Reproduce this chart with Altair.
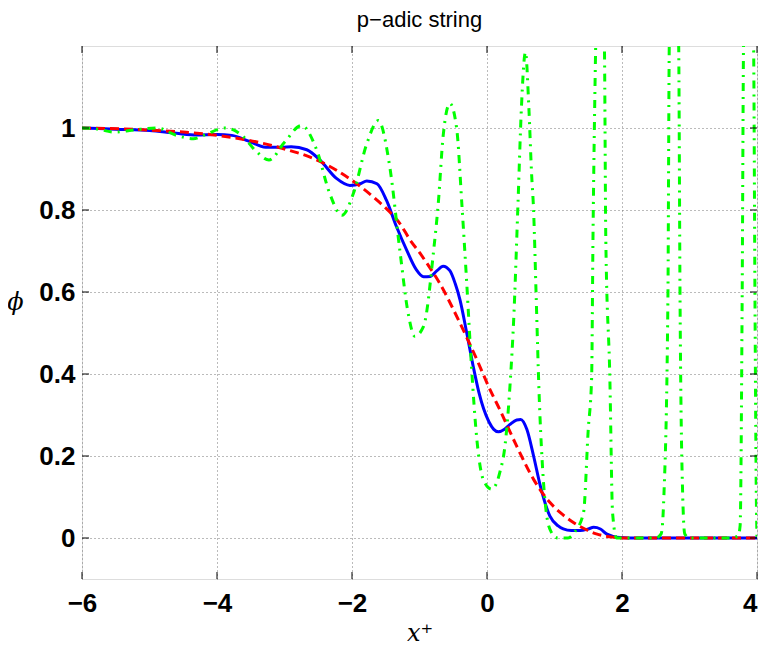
import altair as alt
import pandas as pd

# ---- data ----
blue_x = [-6.0, -5.5, -5.0, -4.6, -4.3, -4.0, -3.78, -3.53, -3.28, -3.04, -2.9, -2.67, -2.47,
          -2.23, -2.03, -1.88, -1.78, -1.63, -1.49, -1.34, -1.19, -1.05, -0.94, -0.84, -0.74,
          -0.65, -0.55, -0.47, -0.40, -0.30, -0.20, -0.12, -0.05, 0.03, 0.10, 0.17, 0.26, 0.34, 0.44,
          0.50, 0.59, 0.69, 0.79, 0.93, 1.05, 1.13, 1.25, 1.38, 1.50, 1.58, 1.68, 1.77, 1.87,
          1.97, 2.1, 3.0, 4.0]
blue_phi = [1.0, 0.997, 0.994, 0.987, 0.983, 0.984, 0.982, 0.968, 0.953, 0.953, 0.954, 0.947, 0.921,
            0.877, 0.860, 0.864, 0.871, 0.864, 0.824, 0.759, 0.702, 0.655, 0.637, 0.638, 0.652,
            0.663, 0.652, 0.620, 0.581, 0.500, 0.415, 0.355, 0.315, 0.283, 0.265, 0.259, 0.265, 0.277, 0.288,
            0.289, 0.265, 0.200, 0.127, 0.054, 0.030, 0.022, 0.018, 0.018, 0.022, 0.026, 0.022, 0.010, 0.004,
            0.001, 0.0, 0.0, 0.0]

red_x = [-6.0, -5.0, -4.5, -4.0, -3.6, -3.33, -3.09, -2.92, -2.62, -2.23, -1.93, -1.63, -1.44, -1.29,
         -1.14, -0.99, -0.89, -0.70, -0.40, -0.15, 0.05, 0.19, 0.44, 0.69, 0.93, 1.10, 1.28, 1.45,
         1.62, 1.87, 2.0, 2.5, 3.0, 4.0]
red_phi = [1.0, 0.995, 0.99, 0.982, 0.972, 0.963, 0.953, 0.945, 0.929, 0.897, 0.864, 0.824, 0.795, 0.767,
           0.727, 0.694, 0.670, 0.621, 0.524, 0.435, 0.360, 0.313, 0.224, 0.143, 0.087, 0.060, 0.038, 0.022,
           0.010, 0.002, 0.0, 0.0, 0.0, 0.0]

green_x = [-6.0, -5.8, -5.51, -5.2, -4.89, -4.6, -4.35, -4.2, -3.88, -3.63, -3.43, -3.23, -3.0, -2.75,
           -2.52, -2.33, -2.15, -1.98, -1.78, -1.61, -1.44, -1.29, -1.17, -1.07, -0.94, -0.79, -0.72,
           -0.65, -0.55, -0.45, -0.37, -0.30, -0.23, -0.15, -0.05, 0.07, 0.19, 0.27, 0.34, 0.40, 0.46,
           0.51, 0.57, 0.62, 0.66, 0.69, 0.73, 0.77, 0.82, 0.88, 0.95, 1.05, 1.2, 1.3, 1.43, 1.50, 1.55,
           1.57, 1.61, 1.68, 1.74, 1.76, 1.82, 1.86, 1.92, 2.0, 2.5, 2.58, 2.62, 2.68, 2.70, 2.77, 2.84,
           2.86, 2.90, 2.93, 3.0, 3.6, 3.72, 3.75, 3.78, 3.80, 3.87, 3.95, 3.97, 3.99, 4.0]
green_phi = [1.0, 0.998, 0.990, 0.996, 1.000, 0.982, 0.974, 0.982, 1.000, 0.982, 0.945, 0.922, 0.965, 1.006,
             0.945, 0.840, 0.787, 0.840, 0.962, 1.018, 0.905, 0.700, 0.550, 0.492, 0.516, 0.702, 0.820,
             0.980, 1.060, 1.000, 0.808, 0.621, 0.419, 0.240, 0.140, 0.119, 0.160, 0.230, 0.370, 0.550, 0.820,
             1.050, 1.185, 1.050, 0.890, 0.800, 0.580, 0.360, 0.180, 0.060, 0.015, 0.0, 0.0, 0.015, 0.062, 0.265, 0.390,
             0.730, 1.200, 1.600, 1.200, 0.730, 0.390, 0.062, 0.0, 0.0, 0.0, 0.010, 0.100, 0.580, 1.200, 1.700, 1.200,
             0.580, 0.100, 0.010, 0.0, 0.0, 0.005, 0.030, 0.580, 1.200, 1.800, 1.200, 0.580, 0.100, 0.0]

x_ticks = [-6, -4, -2, 0, 2, 4]
y_ticks = [0, 0.2, 0.4, 0.6, 0.8, 1]

W, H = 675, 533

df_blue = pd.DataFrame({"x": blue_x, "phi": blue_phi})
df_red = pd.DataFrame({"x": red_x, "phi": red_phi})
df_green = pd.DataFrame({"x": green_x, "phi": green_phi})
df_xt = pd.DataFrame({"x": x_ticks})
df_yt = pd.DataFrame({"phi": y_ticks})

xscale = alt.Scale(domain=[-6, 4], nice=False, zero=False)
yscale = alt.Scale(domain=[-0.1, 1.2], nice=False, zero=False)

xaxis = alt.Axis(values=x_ticks, grid=True, gridDash=[1, 3], gridColor="#777", gridWidth=1,
                 ticks=False, domain=False, labelFont="Liberation Sans", labelFontWeight="bold",
                 labelFontSize=26, labelColor="black", labelPadding=11, labelBaseline="top",
                 format="~g",
                 labelAlign=alt.ExprRef(expr="datum.value >= 4 ? 'right' : 'center'"),
                 title="x⁺", titleFont="DejaVu Serif", titleFontStyle="italic",
                 titleFontWeight="normal", titleFontSize=24, titleColor="black",
                 titleBaseline="alphabetic", titleY=61, labelFlush=False, labelBound=False)
yaxis = alt.Axis(values=y_ticks, grid=True, gridDash=[1, 3], gridColor="#777", gridWidth=1,
                 ticks=False, domain=False, labelFont="Liberation Sans", labelFontWeight="bold",
                 labelFontSize=26, labelColor="black", labelPadding=7, format="~g",
                 title="ϕ", titleFont="DejaVu Serif", titleFontStyle="italic", titleFontWeight="normal",
                 titleFontSize=24, titleColor="black", titleAngle=0, titleAlign="center",
                 titleBaseline="middle", titleX=-67, titleY=256)


def curve(df, color, dash=None):
    kw = dict(color=color, strokeWidth=3, clip=True, interpolate="monotone")
    if dash:
        kw["strokeDash"] = dash
    return alt.Chart(df).mark_line(**kw).encode(
        x=alt.X("x:Q", scale=xscale, axis=xaxis),
        y=alt.Y("phi:Q", scale=yscale, axis=yaxis),
    )


blue = curve(df_blue, "#0000ff")
red = curve(df_red, "#ff0000", [9, 5])
green = curve(df_green, "#00ff00", [8, 6, 2, 6])

tick_bottom = alt.Chart(df_xt).mark_rule(color="black", strokeWidth=1).encode(
    x=alt.X("x:Q", scale=xscale), y=alt.value(H), y2=alt.value(H - 7))
tick_top = alt.Chart(df_xt).mark_rule(color="black", strokeWidth=1).encode(
    x=alt.X("x:Q", scale=xscale), y=alt.value(0), y2=alt.value(7))
tick_left = alt.Chart(df_yt).mark_rule(color="black", strokeWidth=1).encode(
    y=alt.Y("phi:Q", scale=yscale), x=alt.value(0), x2=alt.value(7))
tick_right = alt.Chart(df_yt).mark_rule(color="black", strokeWidth=1).encode(
    y=alt.Y("phi:Q", scale=yscale), x=alt.value(W - 7), x2=alt.value(W))

chart = alt.layer(blue, red, green, tick_bottom, tick_top, tick_left, tick_right).properties(
    width=W, height=H,
    title=alt.TitleParams("p−adic string", font="Liberation Sans", fontSize=22,
                          fontWeight="normal", color="black", anchor="middle", offset=14),
    autosize=alt.AutoSizeParams(type="none"),
    padding={"left": 74, "top": 38, "right": 2, "bottom": 67},
).configure_view(stroke="black", strokeWidth=1.5).configure(background="white")

chart.save("out.html", embed_options={"renderer": "svg", "actions": False})
